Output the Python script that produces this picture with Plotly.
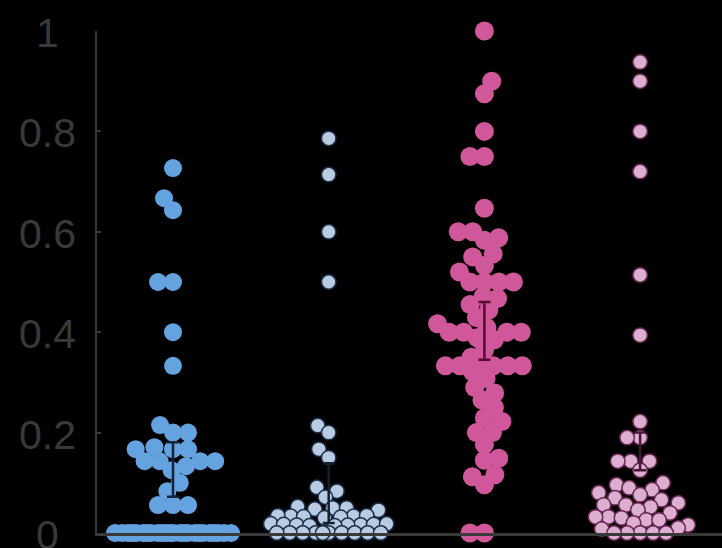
import numpy as np
import plotly.graph_objects as go

# ---------------- data ----------------
tick_vals = [0, 0.2, 0.4, 0.6, 0.8, 1]
tick_text = ["0", "0.2", "0.4", "0.6", "0.8", "1"]

group_pos = [1, 2, 3, 4]

g1_values = [0.727, 0.667, 0.643, 0.5, 0.5, 0.4, 0.333,
             0.215, 0.2, 0.2, 0.171, 0.167, 0.167, 0.167,
             0.143, 0.143, 0.143, 0.143, 0.133, 0.125, 0.1, 0.0833,
             0.0556, 0.0556, 0.0556] + [0.0] * 24

g2_values = [0.786, 0.714, 0.6, 0.5,
             0.214, 0.2, 0.167, 0.15, 0.0909, 0.0833, 0.0714,
             0.05, 0.05, 0.0526, 0.0476, 0.0455,
             0.0333, 0.0333, 0.0345, 0.0313, 0.0303, 0.0323, 0.0345,
             0.0182, 0.0167, 0.0159, 0.0152, 0.0143, 0.0167, 0.0182, 0.0156, 0.0143,
             0.0, 0.0, 0.0, 0.0, 0.0, 0.0, 0.0, 0.0, 0.0, 0.0]

g3_values = [1.0, 0.9, 0.875, 0.8, 0.75, 0.75, 0.647, 0.6, 0.6, 0.588, 0.583,
             0.556, 0.55, 0.533, 0.52, 0.5, 0.5, 0.5, 0.5, 0.471, 0.467, 0.455,
             0.444, 0.429, 0.417, 0.409, 0.4, 0.4, 0.4, 0.4, 0.389, 0.385,
             0.364, 0.35, 0.333, 0.333, 0.333, 0.333, 0.333, 0.333, 0.32,
             0.308, 0.29, 0.279, 0.265, 0.25, 0.229, 0.222,
             0.2, 0.2, 0.176, 0.149, 0.145, 0.116, 0.112, 0.096, 0.0, 0.0]

g4_values = [0.938, 0.9, 0.8, 0.72, 0.514, 0.394,
             0.222, 0.19, 0.19, 0.143, 0.143, 0.143, 0.125,
             0.1, 0.096, 0.09, 0.086, 0.08, 0.076, 0.07, 0.066, 0.06,
             0.056, 0.056, 0.052, 0.046, 0.04, 0.032, 0.032, 0.03,
             0.026, 0.026, 0.02, 0.016, 0.01, 0.008, 0.0, 0.0, 0.0, 0.0, 0.0]

# error bar extents (low, high) per group
err_low = [0.072, 0.02, 0.345, 0.125]
err_high = [0.181, 0.139, 0.46, 0.2]

# ---------------- styling ----------------
fill_colors = ["#64a2e0", "#b9cbe0", "#d0579a", "#dcafd0"]
line_colors = ["#64a2e0", "#1b2e4a", "#d0579a", "#6a2852"]
line_widths = [0, 1.5, 0, 1.5]
marker_sizes = [18, 14.5, 19, 14.5]
bar_colors = ["#14243a", "#14202e", "#5a0c32", "#4a1636"]
axis_gray = "#393939"

PX_PER_X = 155.7  # horizontal pixels per category unit
PX_PER_Y = 502.0  # vertical pixels per value unit
min_dist = [15.0, 13.0, 14.5, 13.0]   # allowed centre distance (px) in the swarm
half_width = [58.0, 58.0, 48.0, 48.0]  # max swarm half width (px)


def swarm_offsets(values, d, w):
    """Simple beeswarm in pixel space with a width cap."""
    v = np.asarray(values, float)
    py = v * PX_PER_Y
    order = np.argsort(v, kind="stable")
    px_list, py_list = [], []
    off = np.zeros(len(v))
    flip = 1.0
    for i in order:
        y = py[i]
        P = np.array(px_list) if px_list else np.zeros(0)
        Q = np.array(py_list) if py_list else np.zeros(0)
        cands = [0.0]
        for xj, yj in zip(px_list, py_list):
            dy = abs(y - yj)
            if dy < d:
                dx = np.sqrt(d * d - dy * dy)
                cands += [xj - dx, xj + dx]
        cands = sorted(cands, key=lambda c: (round(abs(c), 4), -flip * c))
        chosen = None
        for c in cands:
            if abs(c) > w + 1e-9:
                continue
            if len(P) == 0 or np.all((c - P) ** 2 + (y - Q) ** 2 >= d * d - 1e-6):
                chosen = c
                break
        if chosen is None:
            grid = np.linspace(-w, w, 117)
            dmin = np.array([np.min((g - P) ** 2 + (y - Q) ** 2) for g in grid])
            chosen = grid[int(np.argmax(dmin - 1e-3 * np.abs(grid)))]
        flip = -flip
        px_list.append(chosen)
        py_list.append(y)
        off[i] = chosen
    return off / PX_PER_X


groups = [g1_values, g2_values, g3_values, g4_values]

fig = go.Figure()
for i, vals in enumerate(groups):
    offs = swarm_offsets(vals, min_dist[i], half_width[i])
    fig.add_trace(go.Scatter(
        x=group_pos[i] + offs,
        y=vals,
        mode="markers",
        marker=dict(size=marker_sizes[i], color=fill_colors[i],
                    line=dict(color=line_colors[i], width=line_widths[i])),
        cliponaxis=False,
        showlegend=False,
        hoverinfo="y",
    ))

for i in range(4):
    mid = (err_low[i] + err_high[i]) / 2
    half = (err_high[i] - err_low[i]) / 2
    fig.add_trace(go.Scatter(
        x=[group_pos[i]], y=[mid], mode="markers",
        marker=dict(size=1, color="rgba(0,0,0,0)"),
        error_y=dict(type="data", array=[half], visible=True,
                     color=bar_colors[i], thickness=2.5, width=6),
        cliponaxis=False, showlegend=False, hoverinfo="skip",
    ))

# centred y tick labels as text
for tv, tt in zip(tick_vals, tick_text):
    fig.add_annotation(
        x=-0.08, xref="paper", y=tv, yref="y", text=tt, showarrow=False,
        xanchor="center", yanchor="middle", yshift=-2,
        font=dict(family="Liberation Sans, Arial, sans-serif", size=41, color=axis_gray),
    )

fig.update_layout(
    width=722, height=548,
    margin=dict(l=97, r=0, t=31, b=15),
    paper_bgcolor="black", plot_bgcolor="black",
    xaxis=dict(range=[1 - 76 / PX_PER_X, 1 + 549 / PX_PER_X], showgrid=False, zeroline=False,
               showticklabels=False, ticks="", showline=True, linecolor=axis_gray, linewidth=3),
    yaxis=dict(range=[0, 1], tickvals=tick_vals, showgrid=False, zeroline=False,
               showticklabels=False, ticks="inside", ticklen=4, tickwidth=2,
               tickcolor=axis_gray, showline=True, linecolor=axis_gray, linewidth=2),
)

fig.write_html("out.html")
